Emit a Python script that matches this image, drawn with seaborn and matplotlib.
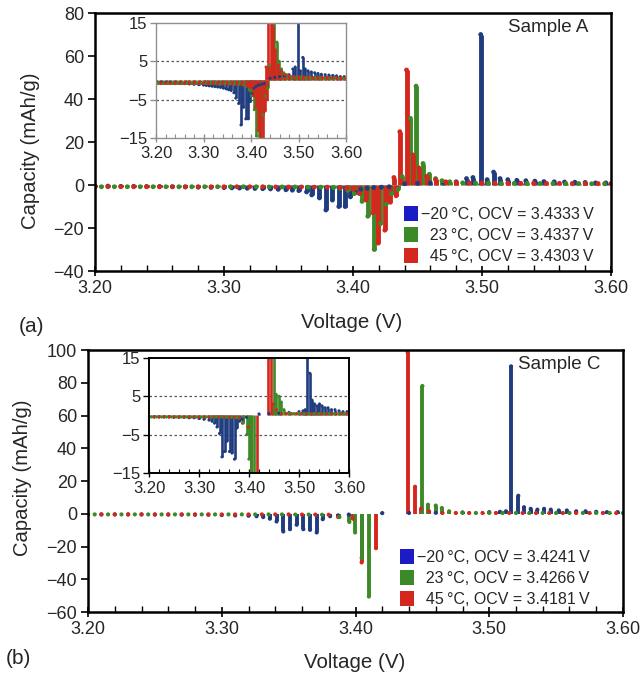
import matplotlib
matplotlib.use('Agg')
import matplotlib.pyplot as plt
import seaborn as sns
from matplotlib.ticker import MultipleLocator, FormatStrFormatter
from matplotlib.patches import Patch

sns.set_theme(style='ticks')
plt.rcParams['font.family'] = ['Liberation Sans', 'DejaVu Sans']
plt.rcParams['axes.unicode_minus'] = True
plt.rcParams['axes.linewidth'] = 1.8
plt.rcParams['axes.edgecolor'] = 'black'

# ---------------- data: panel (a), Sample A ----------------
a_blue_v = [3.200, 3.210, 3.220, 3.230, 3.240, 3.250, 3.260, 3.270, 3.280, 3.290, 3.300,
            3.306, 3.312, 3.318, 3.324, 3.330, 3.336, 3.342, 3.348,
            3.353, 3.358, 3.364, 3.368, 3.374, 3.379, 3.384, 3.389, 3.394, 3.398,
            3.402, 3.406, 3.411, 3.416, 3.422, 3.428,
            3.440, 3.450, 3.460, 3.470, 3.480,
            3.488, 3.493, 3.499, 3.504, 3.509, 3.514, 3.520,
            3.527, 3.534, 3.541, 3.548, 3.556, 3.564, 3.572, 3.580, 3.588, 3.596]
a_blue_c = [-0.5, -0.5, -0.6, -0.6, -0.7, -0.7, -0.8, -0.9, -1.0, -1.1, -1.2,
            -1.3, -1.4, -1.5, -1.6, -1.7, -1.8, -2.0, -2.2,
            -2.4, -2.6, -3.2, -4.6, -6.0, -11.6, -7.0, -10.0, -10.0, -5.5,
            -3.5, -2.0, -1.5, -1.2, -1.0, -0.8,
            0.6, 0.8, 1.0, 1.2, 1.5,
            3.0, 3.5, 70.0, 2.5, 6.0, 3.0, 2.5,
            2.2, 2.0, 1.8, 1.6, 1.5, 1.4, 1.3, 1.2, 1.0, 1.0]

a_green_v = [3.205, 3.215, 3.225, 3.235, 3.245, 3.255, 3.265, 3.275, 3.285, 3.295,
             3.305, 3.315, 3.325, 3.335, 3.345, 3.355, 3.365, 3.375, 3.385,
             3.390, 3.396, 3.401, 3.407, 3.4115, 3.4165, 3.4213, 3.4255, 3.4300, 3.4350,
             3.438, 3.4445, 3.4489, 3.4543, 3.4592, 3.4640, 3.4690, 3.4750,
             3.485, 3.495, 3.505, 3.515, 3.525, 3.535, 3.545, 3.555, 3.565, 3.575, 3.585, 3.595]
a_green_c = [-0.8, -0.8, -0.8, -0.8, -0.8, -0.8, -0.8, -0.8, -0.8, -0.8,
             -0.8, -0.8, -0.8, -0.9, -0.9, -0.9, -1.0, -1.0, -1.2,
             -1.5, -2.5, -4.0, -7.6, -14.5, -30.0, -18.0, -9.0, -4.0, -2.0,
             4.0, 31.0, 46.0, 10.0, 5.0, 3.0, 2.0, 1.5,
             1.0, 0.9, 0.9, 0.8, 0.8, 0.8, 0.7, 0.7, 0.7, 0.7, 0.6, 0.6]

a_red_v = [3.200, 3.210, 3.220, 3.230, 3.240, 3.250, 3.260, 3.270, 3.280, 3.290,
           3.300, 3.310, 3.320, 3.330, 3.340, 3.350, 3.360, 3.370, 3.380, 3.390,
           3.395, 3.400, 3.405, 3.410, 3.4155, 3.4196, 3.4247, 3.4290, 3.4335,
           3.4317, 3.4363, 3.4415, 3.4464, 3.4510, 3.4570, 3.4640, 3.4720, 3.4800,
           3.490, 3.500, 3.510, 3.520, 3.530, 3.540, 3.550, 3.560, 3.570, 3.580, 3.590, 3.600]
a_red_c = [-0.8, -0.8, -0.8, -0.8, -0.8, -0.8, -0.8, -0.8, -0.8, -0.8,
           -0.8, -0.8, -0.8, -0.8, -0.9, -0.9, -0.9, -1.0, -1.0, -1.2,
           -1.5, -2.0, -4.0, -7.0, -13.0, -27.0, -21.0, -8.0, -5.0,
           3.5, 24.8, 53.5, 14.0, 8.0, 4.0, 2.5, 1.5, 1.2,
           1.0, 1.0, 0.9, 0.9, 0.8, 0.8, 0.8, 0.8, 0.7, 0.7, 0.7, 0.7]

a_labels = ['\u221220\u2009\u00b0C, OCV = 3.4333\u2009V',
            '\u200723\u2009\u00b0C, OCV = 3.4337\u2009V',
            '\u200745\u2009\u00b0C, OCV = 3.4303\u2009V']

# ---------------- data: panel (b), Sample C ----------------
b_blue_v = [3.200, 3.210, 3.220, 3.230, 3.240, 3.250, 3.260, 3.270, 3.280, 3.290,
            3.300, 3.310, 3.320, 3.326, 3.331, 3.336, 3.341, 3.346, 3.351, 3.356,
            3.361, 3.366, 3.371, 3.3755, 3.381, 3.387, 3.395,
            3.420, 3.440, 3.460, 3.480, 3.500, 3.508, 3.5125, 3.5163, 3.5217, 3.526,
            3.531, 3.536, 3.541, 3.546, 3.552, 3.558, 3.565, 3.572, 3.580, 3.588, 3.596]
b_blue_c = [-0.4, -0.4, -0.4, -0.4, -0.4, -0.5, -0.5, -0.5, -0.6, -0.6,
            -0.8, -1.0, -1.2, -1.5, -2.0, -3.0, -4.7, -10.8, -9.4, -6.7,
            -9.4, -9.8, -11.4, -3.3, -1.5, -1.0, -0.5,
            0.4, 0.5, 0.6, 0.8, 1.0, 1.2, 1.5, 90.0, 11.0, 4.0,
            3.0, 2.5, 3.0, 2.5, 2.0, 2.0, 1.5, 1.5, 1.2, 1.0, 1.0]

b_green_v = [3.205, 3.215, 3.225, 3.235, 3.245, 3.255, 3.265, 3.275, 3.285,
             3.295, 3.305, 3.315, 3.325, 3.335, 3.345, 3.355, 3.365, 3.375,
             3.388, 3.3954, 3.3997, 3.4046, 3.4100,
             3.4500, 3.4542, 3.4600, 3.4646, 3.4700,
             3.480, 3.490, 3.500, 3.510, 3.520, 3.530, 3.540, 3.550,
             3.560, 3.570, 3.580, 3.590, 3.600]
b_green_c = [-0.4, -0.4, -0.4, -0.4, -0.4, -0.4, -0.4, -0.4, -0.4,
             -0.4, -0.4, -0.4, -0.4, -0.4, -0.4, -0.5, -0.5, -0.6,
             -2.0, -5.0, -11.4, -27.0, -50.5,
             78.0, 5.5, 5.0, 3.5, 1.5,
             0.6, 0.5, 0.5, 0.5, 0.5, 0.5, 0.5, 0.5,
             0.5, 0.5, 0.5, 0.5, 0.5]

b_red_v = [3.200, 3.210, 3.220, 3.230, 3.240, 3.250, 3.260, 3.270, 3.280, 3.290,
           3.300, 3.310, 3.320, 3.330, 3.340, 3.350, 3.360, 3.370, 3.380,
           3.387, 3.398, 3.4046, 3.4153,
           3.4390, 3.4445, 3.4490, 3.4550,
           3.465, 3.475, 3.485, 3.495, 3.505, 3.515, 3.525, 3.535,
           3.545, 3.555, 3.565, 3.575, 3.585, 3.595]
b_red_c = [-0.4, -0.4, -0.4, -0.4, -0.4, -0.4, -0.4, -0.4, -0.4, -0.4,
           -0.4, -0.4, -0.4, -0.4, -0.4, -0.4, -0.5, -0.5, -0.6,
           -2.0, -3.0, -29.7, -21.0,
           98.5, 16.5, 3.0, 1.5,
           0.5, 0.5, 0.5, 0.5, 0.5, 0.5, 0.5, 0.5,
           0.5, 0.5, 0.5, 0.5, 0.5, 0.5]

b_labels = ['\u221220\u2009\u00b0C, OCV = 3.4241\u2009V',
            '\u200723\u2009\u00b0C, OCV = 3.4266\u2009V',
            '\u200745\u2009\u00b0C, OCV = 3.4181\u2009V']

x_ticks = [3.20, 3.30, 3.40, 3.50, 3.60]
a_yticks = [-40, -20, 0, 20, 40, 60, 80]
b_yticks = [-60, -40, -20, 0, 20, 40, 60, 80, 100]
inset_yticks = [-15, -5, 5, 15]

C_BLUE = '#1f3c7e'
C_GREEN = '#3c8a27'
C_RED = '#d4271d'
LEG_COLORS = ['#1c1cc4', '#3c8a27', '#d4271d']

fig = plt.figure(figsize=(6.42, 6.82), dpi=100)
axA = fig.add_axes([0.1480, 0.6026, 0.8037, 0.3783])
insA = fig.add_axes([0.2430, 0.7977, 0.2960, 0.1686])
axB = fig.add_axes([0.1371, 0.1026, 0.8333, 0.3842])
insB = fig.add_axes([0.2321, 0.3065, 0.3115, 0.1686])


def draw(ax, series, lw, s):
    for v, c, col in series:
        ax.vlines(v, 0, c, colors=col, lw=lw)
        sns.scatterplot(x=v, y=c, color=col, s=s, ax=ax, edgecolor='none',
                        legend=False, zorder=3)


series_a = [(a_blue_v, a_blue_c, C_BLUE), (a_green_v, a_green_c, C_GREEN),
            (a_red_v, a_red_c, C_RED)]
series_b = [(b_blue_v, b_blue_c, C_BLUE), (b_red_v, b_red_c, C_RED),
            (b_green_v, b_green_c, C_GREEN)]

draw(axA, series_a, 3.5, 12)
draw(axB, series_b, 2.8, 9)
draw(insA, series_a, 1.9, 5)
draw(insB, series_b, 1.9, 5)


def style_main(ax, yticks):
    ax.set_xlim(3.2, 3.6)
    ax.set_ylim(yticks[0], yticks[-1])
    ax.set_xticks(x_ticks)
    ax.set_yticks(yticks)
    ax.xaxis.set_major_formatter(FormatStrFormatter('%.2f'))
    ax.xaxis.set_minor_locator(MultipleLocator(0.02))
    ax.tick_params(axis='x', which='major', direction='inout', length=7, width=1.2,
                   labelsize=13, pad=3, color='black')
    ax.tick_params(axis='x', which='minor', direction='in', length=4, width=1.0,
                   color='black')
    ax.tick_params(axis='y', which='major', direction='out', length=5, width=1.2,
                   labelsize=13, pad=3, color='black')
    for sp in ax.spines.values():
        sp.set_visible(True)
        sp.set_linewidth(1.8)
        sp.set_color('black')
        sp.set_zorder(5)
    ax.set_xlabel('Voltage (V)', fontsize=14.8)
    ax.set_ylabel('Capacity (mAh/g)', fontsize=14.6)


def style_inset(ax, spine_color, lw):
    ax.set_xlim(3.2, 3.6)
    ax.set_ylim(-15, 15)
    ax.set_xticks(x_ticks)
    ax.set_yticks(inset_yticks)
    ax.xaxis.set_major_formatter(FormatStrFormatter('%.2f'))
    ax.xaxis.set_minor_locator(MultipleLocator(0.02))
    ax.tick_params(axis='x', which='major', direction='inout', length=6, width=1.0,
                   labelsize=12, pad=3, color=spine_color)
    ax.tick_params(axis='x', which='minor', direction='in', length=3, width=0.8,
                   color=spine_color)
    ax.tick_params(axis='y', which='major', direction='out', length=4, width=1.0,
                   labelsize=12, pad=2, color=spine_color)
    for y in (5, -5):
        ax.axhline(y, color='#555555', lw=0.9, ls=(0, (2, 2)), zorder=0)
    for sp in ax.spines.values():
        sp.set_visible(True)
        sp.set_linewidth(lw)
        sp.set_color(spine_color)
        sp.set_zorder(5)
    ax.set_facecolor('white')


style_main(axA, a_yticks)
style_main(axB, b_yticks)
style_inset(insA, '#8f8f8f', 1.0)
style_inset(insB, 'black', 1.4)

axA.xaxis.set_label_coords(0.498, -0.163)
axA.yaxis.set_label_coords(-0.107, 0.465)
axB.xaxis.set_label_coords(0.499, -0.156)
axB.yaxis.set_label_coords(-0.105, 0.511)

axA.text(0.957, 0.942, 'Sample A', transform=axA.transAxes, ha='right', va='center',
         fontsize=13.5)
axB.text(0.957, 0.943, 'Sample C', transform=axB.transAxes, ha='right', va='center',
         fontsize=13.5)

fig.text(31 / 642, 1 - 326 / 682, '(a)', ha='center', va='center', fontsize=15)
fig.text(18 / 642, 1 - 658 / 682, '(b)', ha='center', va='center', fontsize=15)


def add_legend(ax, labels, anchor):
    handles = [Patch(facecolor=c, edgecolor='none') for c in LEG_COLORS]
    ax.legend(handles, labels, loc='lower right', bbox_to_anchor=anchor,
              frameon=False, fontsize=11.5, handlelength=0.87, handleheight=1.0,
              handletextpad=0.2, labelspacing=0.34, borderpad=0, borderaxespad=0)


add_legend(axA, a_labels, (0.967, 0.027))
add_legend(axB, b_labels, (0.938, 0.019))

fig.savefig('out.png', dpi=100)
